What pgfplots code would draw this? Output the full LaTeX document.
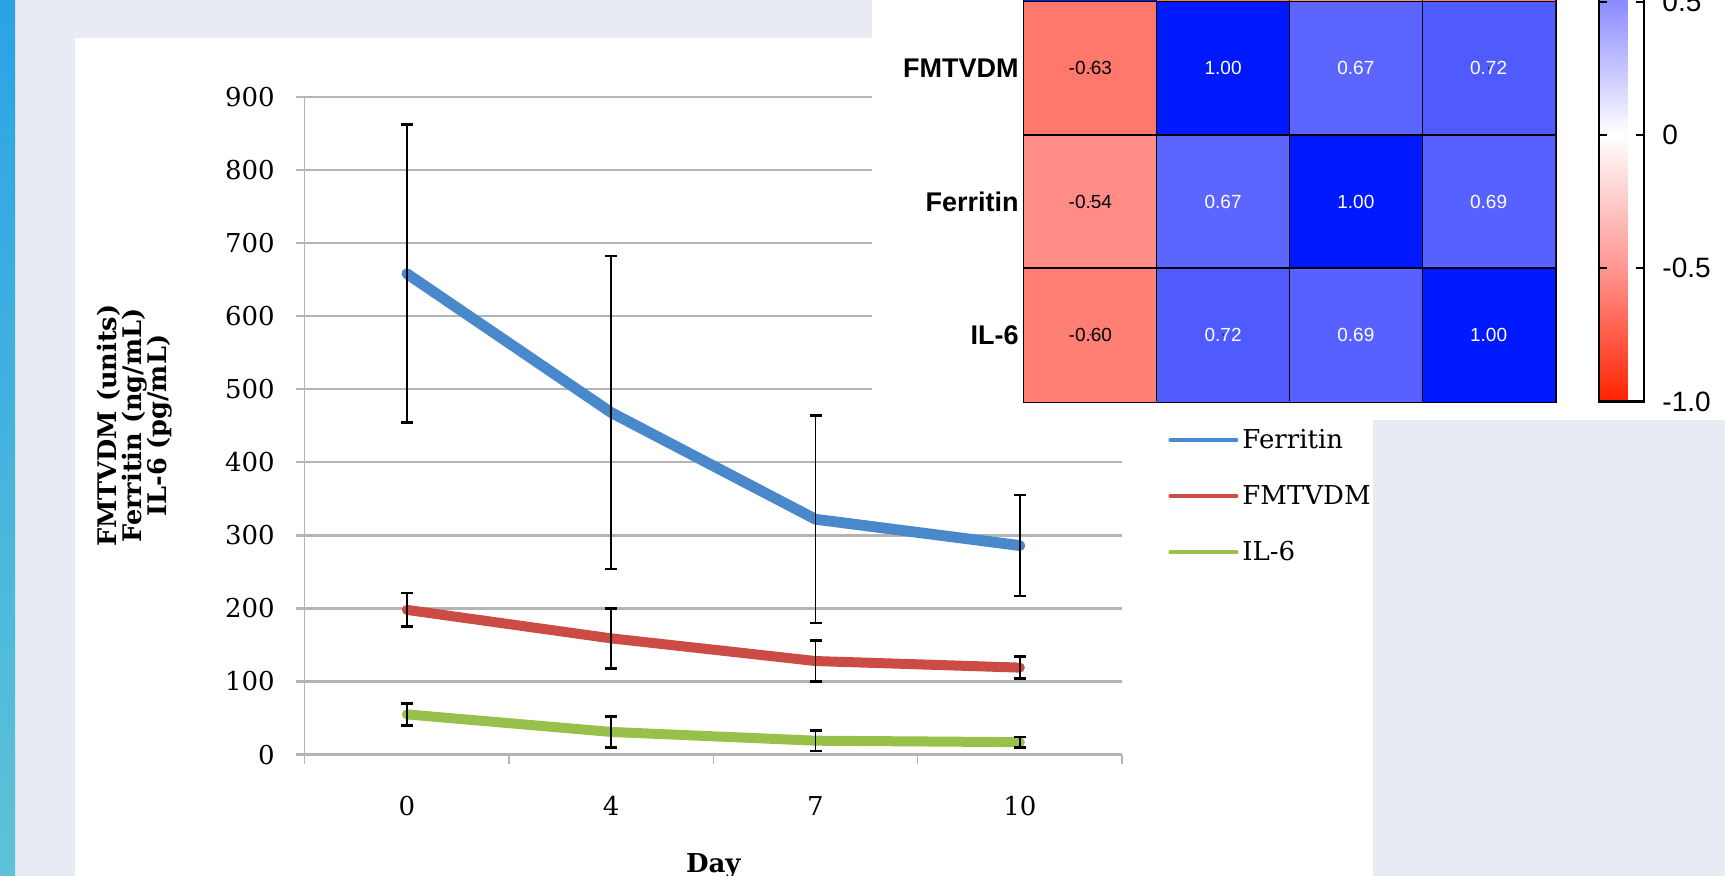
\documentclass[border=0pt]{standalone}
\usepackage{fontspec}
\setmainfont{DejaVu Serif}
\newfontfamily\arial{Liberation Sans}
\usepackage{pgfplots}
\pgfplotsset{compat=1.18}
\definecolor{bggrey}{HTML}{E8EBF3}
\definecolor{ferr}{HTML}{4A88CC}
\definecolor{fmt}{HTML}{CC4B45}
\definecolor{ilsix}{HTML}{98C04A}
\definecolor{gridg}{HTML}{B4B4B4}
\newcommand\ylabfont{\bfseries\fontsize{12.8}{12.4}\selectfont\lineskiplimit=-100pt\relax}
\pgfplotsset{
  ebar/.style={error bars/.cd, y dir=both, y explicit,
    error bar style={black, line width=0.9pt, line cap=butt},
    error mark options={black, line width=1.3pt, mark size=3pt, rotate=90, line cap=butt}},
}
\begin{document}
\begin{tikzpicture}
\useasboundingbox (0,0) rectangle (862.5pt,438pt);
\clip (0,0) rectangle (862.5pt,438pt);
\fill[bggrey] (0,0) rectangle (862.5pt,438pt);
\shade[top color={rgb,255:red,42;green,163;blue,230}, bottom color={rgb,255:red,94;green,195;blue,214}] (0,0) rectangle (7.5pt,438pt);
\fill[white] (37.5pt,0) rectangle (686.5pt,418.75pt);

\begin{axis}[
  at={(152.35pt,60.7pt)}, anchor=south west,
  width=408.65pt, height=328.9pt, scale only axis,
  xmin=0, xmax=4, ymin=0, ymax=900,
  /pgf/number format/assume math mode=true,
  xtick={0,1,2,3,4}, xticklabels={},
  extra x ticks={0.5,1.5,2.5,3.5}, extra x tick labels={0,4,7,10},
  extra x tick style={major tick length=0pt},
  ytick={0,100,...,900},
  axis x line*=bottom, axis y line*=left,
  x axis line style={draw=gridg, line width=1.4pt},
  y axis line style={draw=gridg, line width=0.8pt},
  ymajorgrids, major grid style={draw=gridg, line width=1.2pt},
  tick align=outside,
  xtick style={draw=gridg, line width=0.8pt},
  ytick style={draw=gridg, line width=1.2pt},
  major tick length=4.5pt,
  ticklabel style={font=\fontsize{13}{15}\selectfont},
  yticklabel style={xshift=-7pt},
  xticklabel style={yshift=-17.2pt},
  xlabel={Day},
  xlabel style={at={(axis description cs:0.5,-0.1496)}, anchor=north, inner sep=0pt, font=\bfseries\fontsize{13}{15}\selectfont},
  ylabel={FMTVDM (units)\\Ferritin (ng/mL)\\IL-6 (pg/mL)},
  ylabel style={at={(axis description cs:-0.2084,0.5)}, anchor=center, align=center, font=\ylabfont},
  legend style={draw=none, fill=none, at={(1.0563,0.3928)}, anchor=west, inner sep=0pt, row sep=13pt, font=\fontsize{13}{13}\selectfont},
  legend cell align=left,
  legend image code/.code={\draw[#1, line width=2pt] (0pt,0pt) -- (33pt,0pt);},
  every axis plot/.append style={line join=round, line cap=round, mark=none},
]
\addplot[ferr, line width=5.4pt, ebar]
  table[x=x, y=y, y error=e] {
x y e
0.5 658 204
1.5 468 214
2.5 322 142
3.5 286 69
};
\addlegendentry{Ferritin}
\addplot[fmt, line width=5pt, ebar]
  table[x=x, y=y, y error=e] {
x y e
0.5 198 23
1.5 159 41
2.5 128 28
3.5 119 15
};
\addlegendentry{FMTVDM}
\addplot[ilsix, line width=5pt, ebar]
  table[x=x, y=y, y error=e] {
x y e
0.5 55 15
1.5 31 21
2.5 19 14
3.5 17 7
};
\addlegendentry{IL-6}
\end{axis}

\fill[white] (436pt,228pt) rectangle (862.5pt,438pt);

\begin{axis}[
  at={(512pt,237.25pt)}, anchor=south west,
  width=265.5pt, height=266.6pt, scale only axis,
  xmin=-0.5, xmax=3.5, ymin=-0.5, ymax=3.5, y dir=reverse,
  enlargelimits=false,
  xtick=\empty,
  ytick={1,2,3}, yticklabels={FMTVDM,Ferritin,IL-6},
  yticklabel style={font=\arial\bfseries\fontsize{13.5}{13.5}\selectfont, inner sep=0pt, xshift=-2.5pt},
  major tick length=0pt,
  axis line style={black, line width=1.5pt},
  colormap={rwb}{rgb255(0cm)=(255,34,0); rgb255(5cm)=(255,150,145); rgb255(10cm)=(255,255,255); rgb255(15cm)=(140,140,255); rgb255(20cm)=(0,25,255)},
  point meta min=-1, point meta max=1,
  colorbar,
  colorbar style={
    at={(parent axis.north east)}, anchor=north west, xshift=13.5pt,
    scale only axis, width=22.5pt, y dir=normal,
    ytick={-1,-0.5,0,0.5}, yticklabels={-1.0,-0.5,0,0.5},
    ytick pos=both, yticklabel pos=right,
    tick align=inside, major tick length=4pt,
    ytick style={black, line width=1pt},
    yticklabel style={font=\arial\fontsize{14}{14}\selectfont, xshift=9pt, inner sep=0pt},
    axis line style={black, line width=1.2pt},
  },
]
\addplot[matrix plot*, mesh/cols=4, point meta=explicit] table[x=x, y=y, meta=c] {
x y c
0 0 1.00
1 0 -0.63
2 0 -0.54
3 0 -0.60
0 1 -0.63
1 1 1.00
2 1 0.67
3 1 0.72
0 2 -0.54
1 2 0.67
2 2 1.00
3 2 0.69
0 3 -0.60
1 3 0.72
2 3 0.69
3 3 1.00
};
\addplot[black, line width=0.7pt, forget plot] coordinates {(0.5,-0.5) (0.5,3.5)};
\addplot[black, line width=0.7pt, forget plot] coordinates {(1.5,-0.5) (1.5,3.5)};
\addplot[black, line width=0.7pt, forget plot] coordinates {(2.5,-0.5) (2.5,3.5)};
\addplot[black, line width=0.7pt, forget plot] coordinates {(-0.5,0.5) (3.5,0.5)};
\addplot[black, line width=0.7pt, forget plot] coordinates {(-0.5,1.5) (3.5,1.5)};
\addplot[black, line width=0.7pt, forget plot] coordinates {(-0.5,2.5) (3.5,2.5)};
\addplot[only marks, mark=*, mark size=0.1pt, mark options={draw=none, fill=none}, forget plot,
  point meta=explicit symbolic, nodes near coords={\pgfplotspointmeta},
  nodes near coords style={font=\arial\fontsize{9.5}{9.5}\selectfont, black, anchor=center, inner sep=0pt}]
  table[x=x, y=y, meta=t] {
x y t
0 1 -0.63
0 2 -0.54
0 3 -0.60
};
\addplot[only marks, mark=*, mark size=0.1pt, mark options={draw=none, fill=none}, forget plot,
  point meta=explicit symbolic, nodes near coords={\pgfplotspointmeta},
  nodes near coords style={font=\arial\fontsize{9.5}{9.5}\selectfont, white, anchor=center, inner sep=0pt}]
  table[x=x, y=y, meta=t] {
x y t
1 1 1.00
2 1 0.67
3 1 0.72
1 2 0.67
2 2 1.00
3 2 0.69
1 3 0.72
2 3 0.69
3 3 1.00
};
\end{axis}
\end{tikzpicture}
\end{document}
